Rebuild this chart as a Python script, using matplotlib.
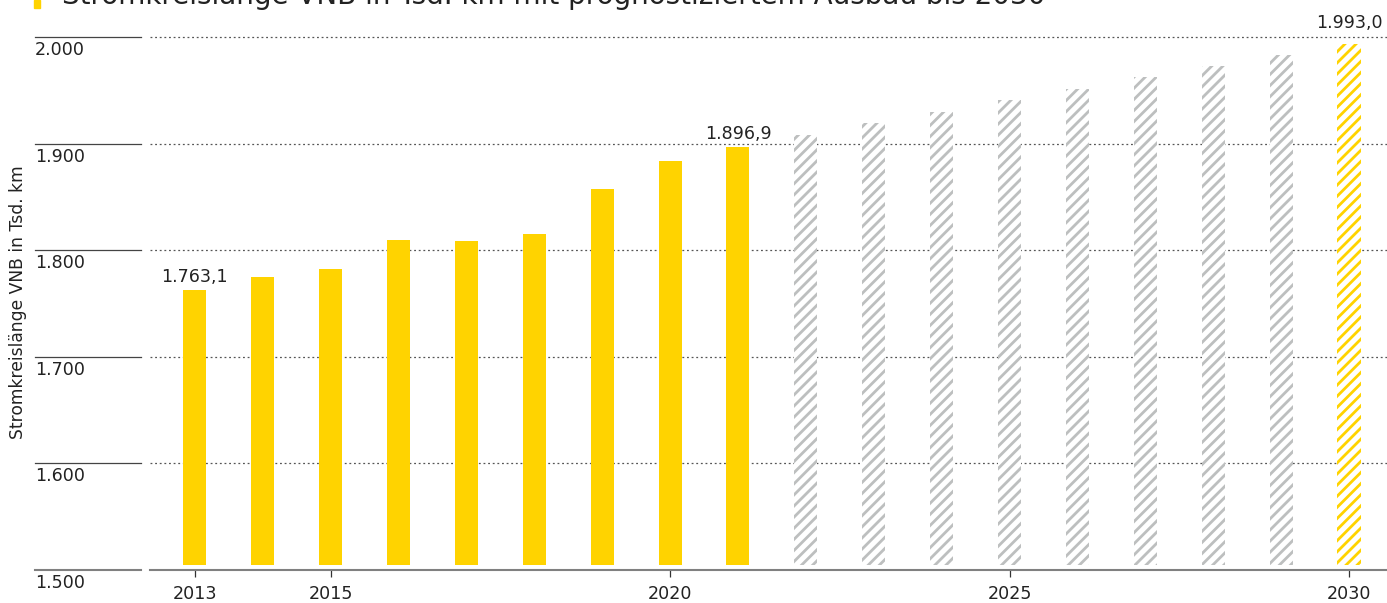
import matplotlib
matplotlib.use("Agg")
import matplotlib.pyplot as plt

# data
years_actual = [2013, 2014, 2015, 2016, 2017, 2018, 2019, 2020, 2021]
km_actual = [1763.1, 1774.9, 1782.4, 1809.6, 1808.6, 1815.2, 1857.4, 1883.7, 1896.9]
years_forecast = [2022, 2023, 2024, 2025, 2026, 2027, 2028, 2029]
km_forecast = [1908.0, 1919.3, 1929.6, 1940.9, 1951.2, 1962.5, 1972.8, 1983.1]
year_target = 2030
km_target = 1993.0

labelled = {2013: "1.763,1", 2021: "1.896,9", 2030: "1.993,0"}
y_ticks = [1500, 1600, 1700, 1800, 1900, 2000]
y_ticklabels = ["1.500", "1.600", "1.700", "1.800", "1.900", "2.000"]
x_ticks = [2013, 2015, 2020, 2025, 2030]

title = "Stromkreislänge VNB in Tsd. km mit prognostiziertem Ausbau bis 2030"
ylabel = "Stromkreislänge VNB in Tsd. km"

YELLOW = "#ffd300"
GREY_HATCH = "#bdbfbf"
W, H, DPI = 1387, 603, 100

plt.rcParams["font.family"] = "DejaVu Sans"
plt.rcParams["hatch.linewidth"] = 2.0

fig = plt.figure(figsize=(W / DPI, H / DPI), dpi=DPI)
ax = fig.add_axes([150 / W, (H - 570) / H, 1 - 150 / W, (570 - 37) / H])

base = 1504.5
bw = 0.34
ax.bar(years_actual, [v - base for v in km_actual], bottom=base, width=bw, color=YELLOW, linewidth=0)
ax.bar(years_forecast, [v - base for v in km_forecast], bottom=base, width=bw,
       facecolor="white", edgecolor=GREY_HATCH, hatch="///", linewidth=0)
ax.bar([year_target], [km_target - base], bottom=base, width=bw,
       facecolor="white", edgecolor=YELLOW, hatch="///", linewidth=0)

all_years = years_actual + years_forecast + [year_target]
all_vals = km_actual + km_forecast + [km_target]
for yr, v in zip(all_years, all_vals):
    if yr in labelled:
        off = 9 if yr == year_target else 2.5
        ax.annotate(labelled[yr], (yr, v), xytext=(0, off), textcoords="offset points",
                    ha="center", va="bottom", fontsize=12.6, color="#222222",
                    annotation_clip=False)

ax.set_xlim(2012.34, 2030.56)
ax.set_ylim(1500, 2000)

# dotted gridlines
for t in y_ticks[1:]:
    ax.axhline(t, color="#555555", lw=0.9, ls=(0, (1.5, 2.2)), zorder=0, clip_on=False)

for s in ["top", "right", "left"]:
    ax.spines[s].set_visible(False)
ax.spines["bottom"].set_color("#808080")
ax.spines["bottom"].set_linewidth(1.5)

ax.set_yticks([])
ax.set_xticks(x_ticks)
ax.set_xticklabels([str(x) for x in x_ticks])
ax.tick_params(axis="x", length=5, width=0.9, color="#333333", labelsize=12.6,
               labelcolor="#222222", pad=6)

# y labels at the left, below short solid lines
for t, lab in zip(y_ticks, y_ticklabels):
    yf = ax.transData.transform((0, t))[1] / H
    lc = "#808080" if t == 1500 else "#444444"
    lw = 1.5 if t == 1500 else 0.9
    fig.add_artist(plt.Line2D([35 / W, 141 / W], [yf, yf], color=lc, lw=lw))
    fig.text(35 / W, yf - 4 / H, lab, ha="left", va="top", fontsize=12.6, color="#222222")

fig.text(18 / W, 1 - 302 / H, ylabel, rotation=90, ha="center", va="center",
         fontsize=12.3, color="#222222")

# title, cut at top edge
fig.add_artist(plt.Rectangle((34 / W, 1 - 8 / H), 6 / W, 8 / H, color=YELLOW))
fig.text(62 / W, 1 - 4 / H, title, ha="left", va="baseline", fontsize=20, color="#222222")

fig.savefig("out.png", dpi=DPI)
